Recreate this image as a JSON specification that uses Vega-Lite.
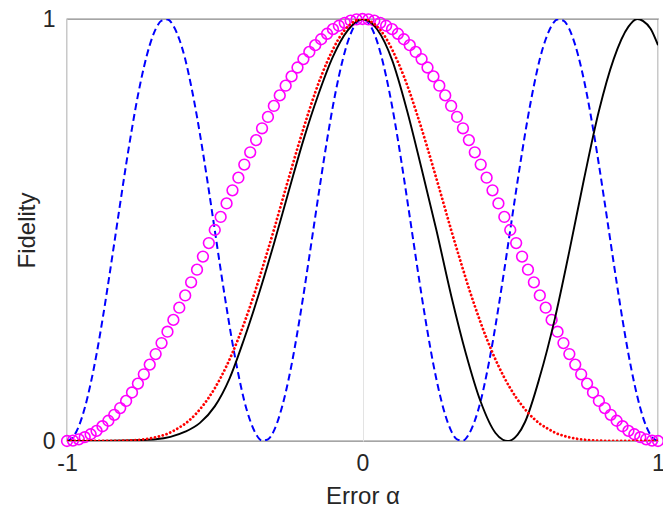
{
  "$schema": "https://vega.github.io/schema/vega-lite/v6.json",
  "autosize": "none",
  "width": 591,
  "height": 422,
  "padding": {"left": 67, "top": 19, "right": 5, "bottom": 72},
  "background": "white",
  "config": {
    "view": {"stroke": "#888888", "strokeWidth": 1.3},
    "font": "Liberation Sans"
  },
  "datasets": {
    "mag": [
      {"a":-1,"F":0},{"a":-0.98,"F":0.001},{"a":-0.96,"F":0.004},{"a":-0.94,"F":0.009},{"a":-0.92,"F":0.016},{"a":-0.9,"F":0.024},{"a":-0.88,"F":0.035},{"a":-0.86,"F":0.048},{"a":-0.84,"F":0.062},{"a":-0.82,"F":0.078},
      {"a":-0.8,"F":0.095},{"a":-0.78,"F":0.115},{"a":-0.76,"F":0.136},{"a":-0.74,"F":0.158},{"a":-0.72,"F":0.181},{"a":-0.7,"F":0.206},{"a":-0.68,"F":0.232},{"a":-0.66,"F":0.259},{"a":-0.64,"F":0.287},{"a":-0.62,"F":0.316},
      {"a":-0.6,"F":0.345},{"a":-0.58,"F":0.376},{"a":-0.56,"F":0.406},{"a":-0.54,"F":0.437},{"a":-0.52,"F":0.469},{"a":-0.5,"F":0.5},{"a":-0.48,"F":0.531},{"a":-0.46,"F":0.563},{"a":-0.44,"F":0.594},{"a":-0.42,"F":0.624},
      {"a":-0.4,"F":0.655},{"a":-0.38,"F":0.684},{"a":-0.36,"F":0.713},{"a":-0.34,"F":0.741},{"a":-0.32,"F":0.768},{"a":-0.3,"F":0.794},{"a":-0.28,"F":0.819},{"a":-0.26,"F":0.842},{"a":-0.24,"F":0.864},{"a":-0.22,"F":0.885},
      {"a":-0.2,"F":0.905},{"a":-0.18,"F":0.922},{"a":-0.16,"F":0.938},{"a":-0.14,"F":0.952},{"a":-0.12,"F":0.965},{"a":-0.1,"F":0.976},{"a":-0.08,"F":0.984},{"a":-0.06,"F":0.991},{"a":-0.04,"F":0.996},{"a":-0.02,"F":0.999},
      {"a":0,"F":1},
      {"a":0.02,"F":0.999},{"a":0.04,"F":0.996},{"a":0.06,"F":0.991},{"a":0.08,"F":0.984},{"a":0.1,"F":0.976},{"a":0.12,"F":0.965},{"a":0.14,"F":0.952},{"a":0.16,"F":0.938},{"a":0.18,"F":0.922},{"a":0.2,"F":0.905},
      {"a":0.22,"F":0.885},{"a":0.24,"F":0.864},{"a":0.26,"F":0.842},{"a":0.28,"F":0.819},{"a":0.3,"F":0.794},{"a":0.32,"F":0.768},{"a":0.34,"F":0.741},{"a":0.36,"F":0.713},{"a":0.38,"F":0.684},{"a":0.4,"F":0.655},
      {"a":0.42,"F":0.624},{"a":0.44,"F":0.594},{"a":0.46,"F":0.563},{"a":0.48,"F":0.531},{"a":0.5,"F":0.5},{"a":0.52,"F":0.469},{"a":0.54,"F":0.437},{"a":0.56,"F":0.406},{"a":0.58,"F":0.376},{"a":0.6,"F":0.345},
      {"a":0.62,"F":0.316},{"a":0.64,"F":0.287},{"a":0.66,"F":0.259},{"a":0.68,"F":0.232},{"a":0.7,"F":0.206},{"a":0.72,"F":0.181},{"a":0.74,"F":0.158},{"a":0.76,"F":0.136},{"a":0.78,"F":0.115},{"a":0.8,"F":0.095},
      {"a":0.82,"F":0.078},{"a":0.84,"F":0.062},{"a":0.86,"F":0.048},{"a":0.88,"F":0.035},{"a":0.9,"F":0.024},{"a":0.92,"F":0.016},{"a":0.94,"F":0.009},{"a":0.96,"F":0.004},{"a":0.98,"F":0.001},{"a":1,"F":0}
    ],
    "blue": [
      {"a":-1,"F":0},{"a":-0.98,"F":0.009},{"a":-0.96,"F":0.035},{"a":-0.94,"F":0.078},{"a":-0.92,"F":0.136},{"a":-0.9,"F":0.206},{"a":-0.88,"F":0.287},{"a":-0.86,"F":0.376},{"a":-0.84,"F":0.469},{"a":-0.82,"F":0.563},
      {"a":-0.8,"F":0.655},{"a":-0.78,"F":0.741},{"a":-0.76,"F":0.819},{"a":-0.74,"F":0.885},{"a":-0.72,"F":0.938},{"a":-0.7,"F":0.976},{"a":-0.68,"F":0.996},{"a":-0.66,"F":0.999},{"a":-0.64,"F":0.984},{"a":-0.62,"F":0.952},
      {"a":-0.6,"F":0.905},{"a":-0.58,"F":0.842},{"a":-0.56,"F":0.768},{"a":-0.54,"F":0.684},{"a":-0.52,"F":0.594},{"a":-0.5,"F":0.5},{"a":-0.48,"F":0.406},{"a":-0.46,"F":0.316},{"a":-0.44,"F":0.232},{"a":-0.42,"F":0.158},
      {"a":-0.4,"F":0.095},{"a":-0.38,"F":0.048},{"a":-0.36,"F":0.016},{"a":-0.34,"F":0.001},{"a":-0.32,"F":0.004},{"a":-0.3,"F":0.024},{"a":-0.28,"F":0.062},{"a":-0.26,"F":0.115},{"a":-0.24,"F":0.181},{"a":-0.22,"F":0.259},
      {"a":-0.2,"F":0.345},{"a":-0.18,"F":0.437},{"a":-0.16,"F":0.531},{"a":-0.14,"F":0.624},{"a":-0.12,"F":0.713},{"a":-0.1,"F":0.794},{"a":-0.08,"F":0.864},{"a":-0.06,"F":0.922},{"a":-0.04,"F":0.965},{"a":-0.02,"F":0.991},
      {"a":0,"F":1},
      {"a":0.02,"F":0.991},{"a":0.04,"F":0.965},{"a":0.06,"F":0.922},{"a":0.08,"F":0.864},{"a":0.1,"F":0.794},{"a":0.12,"F":0.713},{"a":0.14,"F":0.624},{"a":0.16,"F":0.531},{"a":0.18,"F":0.437},{"a":0.2,"F":0.345},
      {"a":0.22,"F":0.259},{"a":0.24,"F":0.181},{"a":0.26,"F":0.115},{"a":0.28,"F":0.062},{"a":0.3,"F":0.024},{"a":0.32,"F":0.004},{"a":0.34,"F":0.001},{"a":0.36,"F":0.016},{"a":0.38,"F":0.048},{"a":0.4,"F":0.095},
      {"a":0.42,"F":0.158},{"a":0.44,"F":0.232},{"a":0.46,"F":0.316},{"a":0.48,"F":0.406},{"a":0.5,"F":0.5},{"a":0.52,"F":0.594},{"a":0.54,"F":0.684},{"a":0.56,"F":0.768},{"a":0.58,"F":0.842},{"a":0.6,"F":0.905},
      {"a":0.62,"F":0.952},{"a":0.64,"F":0.984},{"a":0.66,"F":0.999},{"a":0.68,"F":0.996},{"a":0.7,"F":0.976},{"a":0.72,"F":0.938},{"a":0.74,"F":0.885},{"a":0.76,"F":0.819},{"a":0.78,"F":0.741},{"a":0.8,"F":0.655},
      {"a":0.82,"F":0.563},{"a":0.84,"F":0.469},{"a":0.86,"F":0.376},{"a":0.88,"F":0.287},{"a":0.9,"F":0.206},{"a":0.92,"F":0.136},{"a":0.94,"F":0.078},{"a":0.96,"F":0.035},{"a":0.98,"F":0.009},{"a":1,"F":0}
    ],
    "red": [
      {"a":-1,"F":0},{"a":-0.98,"F":0},{"a":-0.96,"F":0},{"a":-0.94,"F":0},{"a":-0.92,"F":0},{"a":-0.9,"F":0},{"a":-0.88,"F":0},{"a":-0.86,"F":0.0001},{"a":-0.84,"F":0.0002},{"a":-0.82,"F":0.0005},
      {"a":-0.8,"F":0.0009},{"a":-0.78,"F":0.0015},{"a":-0.76,"F":0.0025},{"a":-0.74,"F":0.0039},{"a":-0.72,"F":0.006},{"a":-0.7,"F":0.0088},{"a":-0.68,"F":0.0125},{"a":-0.66,"F":0.017},{"a":-0.64,"F":0.024},{"a":-0.62,"F":0.032},
      {"a":-0.6,"F":0.041},{"a":-0.58,"F":0.053},{"a":-0.56,"F":0.067},{"a":-0.54,"F":0.084},{"a":-0.52,"F":0.103},{"a":-0.5,"F":0.125},{"a":-0.48,"F":0.15},{"a":-0.46,"F":0.178},{"a":-0.44,"F":0.209},{"a":-0.42,"F":0.243},
      {"a":-0.4,"F":0.28},{"a":-0.38,"F":0.32},{"a":-0.36,"F":0.362},{"a":-0.34,"F":0.407},{"a":-0.32,"F":0.453},{"a":-0.3,"F":0.5},{"a":-0.28,"F":0.549},{"a":-0.26,"F":0.598},{"a":-0.24,"F":0.646},{"a":-0.22,"F":0.694},
      {"a":-0.2,"F":0.74},{"a":-0.18,"F":0.784},{"a":-0.16,"F":0.826},{"a":-0.14,"F":0.864},{"a":-0.12,"F":0.898},{"a":-0.1,"F":0.928},{"a":-0.08,"F":0.954},{"a":-0.06,"F":0.974},{"a":-0.04,"F":0.988},{"a":-0.02,"F":0.997},
      {"a":0,"F":1},
      {"a":0.02,"F":0.997},{"a":0.04,"F":0.988},{"a":0.06,"F":0.974},{"a":0.08,"F":0.954},{"a":0.1,"F":0.928},{"a":0.12,"F":0.898},{"a":0.14,"F":0.864},{"a":0.16,"F":0.826},{"a":0.18,"F":0.784},{"a":0.2,"F":0.74},
      {"a":0.22,"F":0.694},{"a":0.24,"F":0.646},{"a":0.26,"F":0.598},{"a":0.28,"F":0.549},{"a":0.3,"F":0.5},{"a":0.32,"F":0.453},{"a":0.34,"F":0.407},{"a":0.36,"F":0.362},{"a":0.38,"F":0.32},{"a":0.4,"F":0.28},
      {"a":0.42,"F":0.243},{"a":0.44,"F":0.209},{"a":0.46,"F":0.178},{"a":0.48,"F":0.15},{"a":0.5,"F":0.125},{"a":0.52,"F":0.103},{"a":0.54,"F":0.084},{"a":0.56,"F":0.067},{"a":0.58,"F":0.053},{"a":0.6,"F":0.041},
      {"a":0.62,"F":0.032},{"a":0.64,"F":0.024},{"a":0.66,"F":0.017},{"a":0.68,"F":0.0125},{"a":0.7,"F":0.0088},{"a":0.72,"F":0.006},{"a":0.74,"F":0.0039},{"a":0.76,"F":0.0025},{"a":0.78,"F":0.0015},{"a":0.8,"F":0.0009},
      {"a":0.82,"F":0.0005},{"a":0.84,"F":0.0002},{"a":0.86,"F":0.0001},{"a":0.88,"F":0},{"a":0.9,"F":0},{"a":0.92,"F":0},{"a":0.94,"F":0},{"a":0.96,"F":0},{"a":0.98,"F":0},{"a":1,"F":0}
    ],
    "black": [
      {"a":-1,"F":0},{"a":-0.9,"F":0.0002},{"a":-0.85,"F":0.0006},{"a":-0.8,"F":0.0012},{"a":-0.75,"F":0.0022},{"a":-0.7,"F":0.004},{"a":-0.65,"F":0.0098},{"a":-0.6,"F":0.022},{"a":-0.55,"F":0.043},{"a":-0.5,"F":0.082},
      {"a":-0.45,"F":0.148},{"a":-0.4,"F":0.243},{"a":-0.35,"F":0.35},{"a":-0.3,"F":0.467},{"a":-0.25,"F":0.591},{"a":-0.2,"F":0.713},{"a":-0.15,"F":0.82},{"a":-0.1,"F":0.911},{"a":-0.05,"F":0.973},{"a":0,"F":1},
      {"a":0.05,"F":0.975},{"a":0.1,"F":0.903},{"a":0.15,"F":0.785},{"a":0.2,"F":0.645},{"a":0.25,"F":0.5},{"a":0.3,"F":0.345},{"a":0.35,"F":0.207},{"a":0.4,"F":0.093},{"a":0.45,"F":0.019},{"a":0.475,"F":0.003},
      {"a":0.49,"F":0},{"a":0.5,"F":0.001},{"a":0.525,"F":0.015},{"a":0.55,"F":0.045},{"a":0.6,"F":0.152},{"a":0.65,"F":0.287},{"a":0.7,"F":0.45},{"a":0.75,"F":0.622},{"a":0.8,"F":0.782},{"a":0.85,"F":0.905},
      {"a":0.9,"F":0.982},{"a":0.93,"F":1},{"a":0.95,"F":0.995},{"a":0.975,"F":0.977},{"a":1,"F":0.938}
    ]
  },
  "encoding": {
    "x": {
      "field": "a", "type": "quantitative",
      "scale": {"domain": [-1, 1], "nice": false, "zero": false},
      "axis": {
        "values": [-1, 0, 1], "title": "Error α",
        "labelExpr": "datum.value == -1 ? '-1' : (datum.value == 0 ? '0' : '1')",
        "labelFlush": false,
        "grid": true, "gridColor": "#e3e3e3", "gridWidth": 1,
        "domain": false, "ticks": false,
        "labelFontSize": 23, "labelColor": "#262626", "labelPadding": 11,
        "titleFontSize": 24, "titleFontWeight": "normal", "titleColor": "#262626", "titlePadding": 9
      }
    },
    "y": {
      "field": "F", "type": "quantitative",
      "scale": {"domain": [0, 1], "nice": false, "zero": false},
      "axis": {
        "values": [0, 1], "title": "Fidelity",
        "labelExpr": "datum.value == 0 ? '0' : '1'",
        "labelFlush": false,
        "grid": false, "domain": false, "ticks": false,
        "labelFontSize": 23, "labelColor": "#262626", "labelPadding": 12,
        "titleFontSize": 24, "titleFontWeight": "normal", "titleColor": "#262626", "titlePadding": 3
      }
    }
  },
  "layer": [
    {
      "data": {"name": "blue"},
      "mark": {"type": "line", "color": "#0000FF", "strokeWidth": 2, "strokeDash": [7, 4], "interpolate": "monotone", "clip": true}
    },
    {
      "data": {"name": "mag"},
      "mark": {"type": "point", "shape": "circle", "filled": false, "color": "#FF00FF", "strokeWidth": 1.6, "size": 115, "opacity": 1}
    },
    {
      "data": {"name": "black"},
      "mark": {"type": "line", "color": "#000000", "strokeWidth": 1.9, "interpolate": "monotone", "clip": true}
    },
    {
      "data": {"name": "red"},
      "mark": {"type": "line", "color": "#FF0000", "strokeWidth": 2.8, "strokeDash": [0.01, 4], "strokeCap": "round", "interpolate": "monotone", "clip": true}
    }
  ]
}
